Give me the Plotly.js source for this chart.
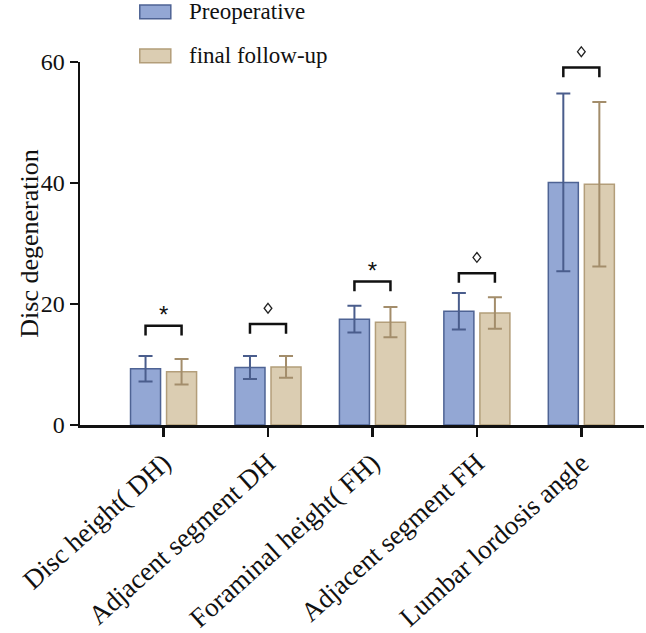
<!DOCTYPE html>
<html>
<head>
<meta charset="utf-8">
<script src="https://cdn.plot.ly/plotly-3.0.1.min.js"></script>
<style>html,body{margin:0;padding:0;background:#fff;}#chart{width:646px;height:633px;}</style>
</head>
<body>
<div id="chart"></div>
<script>
const categories = ['Disc height( DH)', 'Adjacent segment DH', 'Foraminal height( FH)', 'Adjacent segment FH', 'Lumbar lordosis angle'];
const seriesNames = ['Preoperative', 'final follow-up'];
const preopMean = [9.3, 9.5, 17.5, 18.8, 40.1];
const preopSD = [2.1, 1.9, 2.2, 3.0, 14.7];
const followMean = [8.8, 9.6, 17.0, 18.5, 39.8];
const followSD = [2.1, 1.8, 2.5, 2.6, 13.6];
const sigMarks = ['*', '◇', '*', '◇', '◇'];
const bracketLevel = [16.4, 16.7, 23.7, 25.1, 59.1];
const yTicks = [0, 20, 40, 60];

const idx = categories.map((c, i) => i);
const yMax = yTicks[yTicks.length - 1];
const FONT = 'Liberation Serif, Times New Roman, serif';
const bargap = 0.31;
const off = (1 - bargap) / 4;

const blueFill = 'rgba(138,160,208,0.92)', blueLine = '#4e6394', blueErr = '#4a5d8c';
const tanFill = 'rgba(217,202,174,0.95)', tanLine = '#b39e7a', tanErr = '#a38d6b';

const traces = [
  {type: 'bar', name: seriesNames[0], x: idx, y: preopMean,
   marker: {color: blueFill, line: {color: blueLine, width: 1.5}},
   error_y: {type: 'data', array: preopSD, visible: true, color: blueErr, thickness: 2, width: 7},
   showlegend: false},
  {type: 'bar', name: seriesNames[1], x: idx, y: followMean,
   marker: {color: tanFill, line: {color: tanLine, width: 1.5}},
   error_y: {type: 'data', array: followSD, visible: true, color: tanErr, thickness: 2, width: 7},
   showlegend: false}
];

const shapes = [];
const annotations = [];
const leg = 1.6;
idx.forEach(i => {
  const h = bracketLevel[i];
  shapes.push({type: 'path', xref: 'x', yref: 'y',
    path: `M ${i - off} ${h - leg} L ${i - off} ${h} L ${i + off} ${h} L ${i + off} ${h - leg}`,
    line: {color: '#111', width: 2.5}});
});

// significance marks
const starIdx = idx.filter(i => sigMarks[i] === '*');
const diaIdx = idx.filter(i => sigMarks[i] !== '*');
traces.push({type: 'scatter', mode: 'text', x: starIdx, y: starIdx.map(i => bracketLevel[i] + 1.4),
  text: starIdx.map(i => sigMarks[i]), textposition: 'middle center', cliponaxis: false,
  textfont: {family: 'Liberation Sans, Arial', size: 24, color: '#111'}, showlegend: false, hoverinfo: 'skip'});
const dw = 0.037, dh = 0.0135;
diaIdx.forEach(i => {
  const yc = (bracketLevel[i] + 2.6) / yMax;
  shapes.push({type: 'path', xref: 'x', yref: 'paper',
    path: `M ${i} ${yc + dh} L ${i + dw} ${yc} L ${i} ${yc - dh} L ${i - dw} ${yc} Z`,
    fillcolor: '#fff', line: {color: '#222', width: 1.3}});
});

// custom legend
const legFills = [[blueFill, blueLine], [tanFill, tanLine]];
const legY = [1.138, 1.017];
legY.forEach((yc, k) => {
  shapes.push({type: 'rect', xref: 'paper', yref: 'paper', x0: 0.106, x1: 0.161, y0: yc - 0.019, y1: yc + 0.019,
    fillcolor: legFills[k][0], line: {color: legFills[k][1], width: 1.5}});
  annotations.push({xref: 'paper', yref: 'paper', x: 0.19, y: yc, xanchor: 'left', yanchor: 'middle',
    text: seriesNames[k], showarrow: false, font: {family: FONT, size: 23, color: '#111'}});
});

// y axis title
annotations.push({xref: 'paper', yref: 'paper', x: -0.09, y: 0.5, xanchor: 'center', yanchor: 'middle',
  text: 'Disc degeneration', textangle: -90, showarrow: false, font: {family: FONT, size: 26, color: '#111'}});

const layout = {
  width: 646, height: 633,
  margin: {l: 80, r: 2, t: 62, b: 208},
  paper_bgcolor: '#fff', plot_bgcolor: '#fff',
  barmode: 'group', bargap: bargap, bargroupgap: 0.167,
  showlegend: false,
  font: {family: FONT, size: 22, color: '#111'},
  xaxis: {range: [-0.8, 4.6], tickvals: idx, ticktext: categories, tickangle: -42,
    showline: true, linecolor: '#111', linewidth: 2.5, ticks: 'outside', ticklen: 9, tickwidth: 2.5, tickcolor: '#111',
    showgrid: false, zeroline: false, tickfont: {family: FONT, size: 27, color: '#111'}},
  yaxis: {range: [0, yMax], tickvals: yTicks, showline: true, linecolor: '#111', linewidth: 2.5,
    ticks: 'outside', ticklen: 8, tickwidth: 2.5, tickcolor: '#111', showgrid: false, zeroline: false,
    tickfont: {family: FONT, size: 24, color: '#111'}},
  shapes: shapes, annotations: annotations
};

Plotly.newPlot('chart', traces, layout, {displayModeBar: false, staticPlot: true});
</script>
</body>
</html>
